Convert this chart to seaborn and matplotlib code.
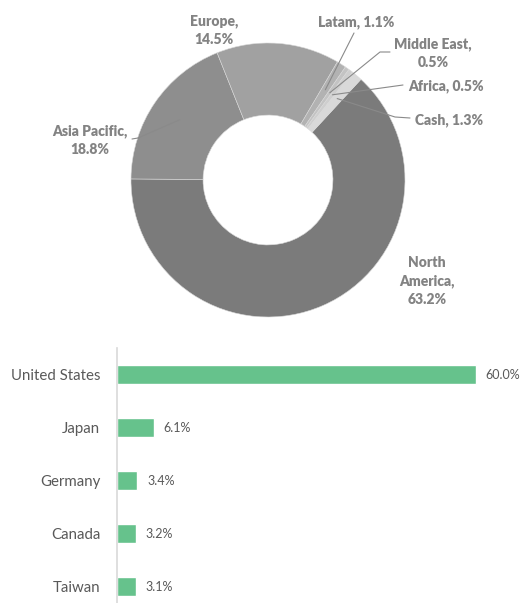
import numpy as np
import pandas as pd
import matplotlib
matplotlib.use('Agg')
import matplotlib.pyplot as plt
import seaborn as sns

# donut data (clockwise from North America)
regions = ['North America', 'Asia Pacific', 'Europe', 'Latam', 'Middle East', 'Africa', 'Cash']
shares = [63.2, 18.8, 14.5, 1.1, 0.5, 0.5, 1.3]
region_labels = ['North\nAmerica,\n63.2%', 'Asia Pacific,\n18.8%', 'Europe,\n14.5%',
                 'Latam, 1.1%', 'Middle East,\n0.5%', 'Africa, 0.5%', 'Cash, 1.3%']
region_colors = ['#7b7b7b', '#8e8e8e', '#a1a1a1', '#b2b2b2', '#c3c3c3', '#cecece', '#d9d9d9']

# bar data
countries = ['United States', 'Japan', 'Germany', 'Canada', 'Taiwan']
weights = [60.0, 6.1, 3.4, 3.2, 3.1]

sns.set_theme(style='white')
plt.rcParams['font.family'] = ['Lato', 'DejaVu Sans']

W, H = 522, 603
fig = plt.figure(figsize=(W / 100, H / 100), dpi=100)

# ---- donut ----
cx, cy, R = 268, 180, 137  # pixel centre / radius
top_h = 330
ax1 = fig.add_axes([0, 1 - top_h / H, 1, top_h / H])
wedges, _ = ax1.pie(shares, colors=region_colors, startangle=47.3, counterclock=False,
                    radius=1, wedgeprops=dict(width=0.526, edgecolor='#d8d8d8', linewidth=0.4))
ax1.set_xlim(-cx / R, (W - cx) / R)
ax1.set_ylim(-(top_h - cy) / R, cy / R)
ax1.set_aspect('auto')
ax1.axis('off')


def px(x, y):
    return (x - cx) / R, (cy - y) / R


# label positions in pixels (layout)
label_pos = {
    'North America': (427, 281),
    'Asia Pacific': (90, 140),
    'Europe': (214, 30),
    'Latam': (356, 22),
    'Middle East': (433, 53),
    'Africa': (446, 86),
    'Cash': (449, 120),
}
# leader line path from anchor towards label (pixels)
leaders = {
    'Asia Pacific': [(138, 138), (132, 139)],
    'Latam': [(354, 33)],
    'Middle East': [(380, 52), (390, 52)],
    'Africa': [(403, 85)],
    'Cash': [(395, 117), (410, 118)],
}
lab_color = '#838383'
for w, name, lab in zip(wedges, regions, region_labels):
    x, y = px(*label_pos[name])
    ax1.text(x, y, lab, ha='center', va='center', fontsize=10, fontweight='heavy',
             color=lab_color, linespacing=1.45)
    if name in leaders:
        mid = np.deg2rad((w.theta1 + w.theta2) / 2)
        pts = [(0.78 * np.cos(mid), 0.78 * np.sin(mid))] + [px(*p) for p in leaders[name]]
        xs, ys = zip(*pts)
        ax1.plot(xs, ys, color='#8a8a8a', lw=0.8)

# ---- bars ----
bar_left, bar_top = 117, 348
ax2 = fig.add_axes([bar_left / W, 0, 389 / W, (H - bar_top) / H])
df = pd.DataFrame({'country': countries, 'weight': weights})
sns.barplot(data=df, x='weight', y='country', color='#66c28c', saturation=1,
            width=0.36, ax=ax2)
ax2.set_xlim(0, 65)
ax2.set_ylim(4.31, -0.5)
for c in ax2.containers:
    ax2.bar_label(c, fmt='%.1f%%', padding=7, fontsize=9, color='#595959')
sns.despine(ax=ax2, left=False, bottom=True)
ax2.spines['left'].set_color('#d9d9d9')
ax2.spines['left'].set_linewidth(1.2)
ax2.set_xticks([])
ax2.set_xlabel('')
ax2.set_ylabel('')
ax2.tick_params(axis='y', length=0, pad=12, labelsize=10.8, labelcolor='#595959')

fig.savefig('out.png', dpi=100)
